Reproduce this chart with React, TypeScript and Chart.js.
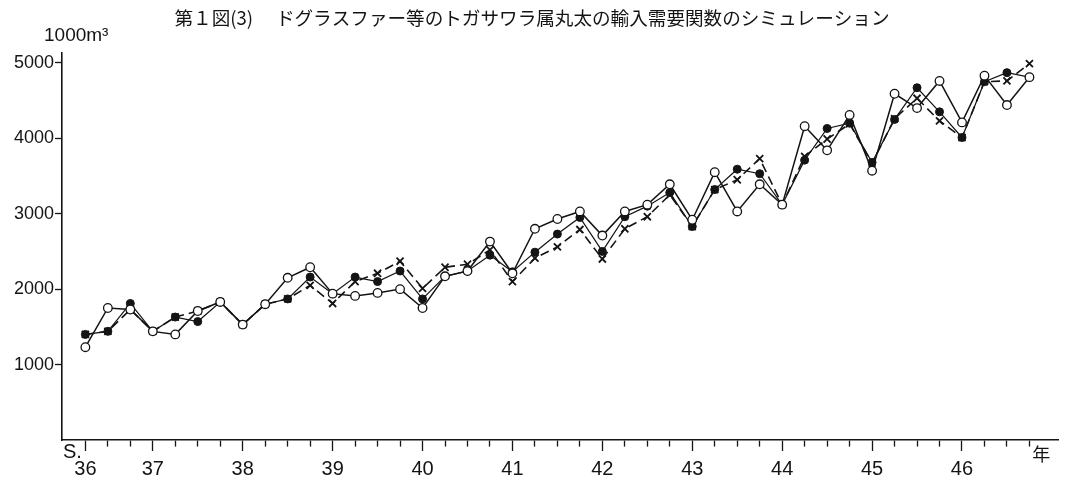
import React, { useEffect, useRef } from "react";
import { Chart, registerables } from "chart.js";

Chart.register(...registerables);

// Quarters (S.36 II期 … S.46 IV期)
const quarters = [
  "36-2", "36-3", "36-4",
  "37-1", "37-2", "37-3", "37-4",
  "38-1", "38-2", "38-3", "38-4",
  "39-1", "39-2", "39-3", "39-4",
  "40-1", "40-2", "40-3", "40-4",
  "41-1", "41-2", "41-3", "41-4",
  "42-1", "42-2", "42-3", "42-4",
  "43-1", "43-2", "43-3", "43-4",
  "44-1", "44-2", "44-3", "44-4",
  "45-1", "45-2", "45-3", "45-4",
  "46-1", "46-2", "46-3", "46-4",
];

// ○ 実績
const actualValues = [
  1230, 1750, 1730, 1440, 1400, 1710, 1830, 1530, 1800, 2150, 2290,
  1940, 1910, 1950, 2000, 1750, 2170, 2240, 2630, 2210, 2800, 2930,
  3030, 2710, 3030, 3120, 3390, 2920, 3550, 3030, 3390, 3120, 4160,
  3840, 4310, 3570, 4590, 4400, 4760, 4210, 4830, 4440, 4810,
];

// ● 推計値
const estimateFilled = [
  1400, 1440, 1810, 1440, 1630, 1570, 1830, 1530, 1800, 1870, 2160,
  1940, 2160, 2100, 2240, 1870, 2170, 2240, 2450, 2230, 2490, 2730,
  2950, 2500, 2960, 3100, 3280, 2830, 3320, 3590, 3530, 3120, 3710,
  4130, 4200, 3680, 4250, 4670, 4350, 4010, 4750, 4870, 4810,
];

// × 推計値
const estimateCross = [
  1400, 1440, 1730, 1440, 1630, 1710, 1830, 1530, 1800, 1870, 2050,
  1810, 2100, 2210, 2370, 2010, 2290, 2330, 2520, 2100, 2410, 2560,
  2790, 2400, 2800, 2960, 3250, 2830, 3320, 3450, 3730, 3120, 3760,
  3990, 4190, 3670, 4260, 4530, 4230, 4010, 4750, 4760, 4990,
];

const yTickValues = [1000, 2000, 3000, 4000, 5000];

const titleText = "第１図(3)　 ドグラスファー等のトガサワラ属丸太の輸入需要関数のシミュレーション";
const unitLabel = "1000m³";
const eraLabel = "S.";
const yearUnit = "年";

const ink = "#141414";

function yearOf(i: number): string | null {
  const q = quarters[i];
  if (!q) return null;
  const [y, p] = q.split("-");
  if (i === 0 || p === "1") return y;
  return null;
}

export default function App() {
  const ref = useRef<HTMLCanvasElement>(null);

  useEffect(() => {
    document.body.style.margin = "0";
    const canvas = ref.current!;
    const ctx = canvas.getContext("2d")!;

    const extraText = {
      id: "extraText",
      afterDraw(chart: any) {
        const { ctx: c, chartArea } = chart;
        c.save();
        c.fillStyle = ink;
        c.textBaseline = "middle";
        c.textAlign = "left";
        c.font = "19px 'Liberation Sans', Arial, sans-serif";
        c.fillText(unitLabel, chartArea.left - 18, chartArea.top - 17);
        c.font = "20px 'Liberation Sans', Arial, sans-serif";
        c.fillText(eraLabel, chartArea.left + 1, chartArea.bottom + 12);
        c.font = "18px 'Noto Sans CJK JP', sans-serif";
        c.fillText(yearUnit, chartArea.right - 26, chartArea.bottom + 14);
        c.restore();
      },
    };

    const toPoints = (arr: number[]) => arr.map((v, i) => ({ x: i, y: v }));

    const chart = new Chart(ctx, {
      type: "line",
      data: {
        datasets: [
          {
            label: "実績",
            data: toPoints(actualValues),
            borderColor: ink,
            borderWidth: 1.5,
            pointStyle: "circle",
            pointRadius: 4.3,
            pointBackgroundColor: "#ffffff",
            pointBorderColor: ink,
            pointBorderWidth: 1.3,
            tension: 0,
          },
          {
            label: "推計値(1)",
            data: toPoints(estimateFilled),
            borderColor: ink,
            borderWidth: 1.2,
            pointStyle: "circle",
            pointRadius: 4,
            pointBackgroundColor: ink,
            pointBorderColor: ink,
            pointBorderWidth: 1,
            tension: 0,
          },
          {
            label: "推計値(2)",
            data: toPoints(estimateCross),
            borderColor: ink,
            borderWidth: 1.6,
            borderDash: [9, 5],
            pointStyle: "crossRot",
            pointRadius: 5,
            pointBorderColor: ink,
            pointBorderWidth: 1.8,
            tension: 0,
          },
        ] as any,
      },
      options: {
        animation: false,
        responsive: false,
        layout: { padding: { left: 0, right: 1, top: 0, bottom: 0 } },
        plugins: {
          legend: { display: false },
          tooltip: { enabled: false },
          title: {
            display: true,
            text: titleText,
            color: ink,
            font: { family: "'Noto Sans CJK JP', sans-serif", size: 18.6, weight: "normal" },
            padding: { top: 7, bottom: 23.7 },
          },
        },
        scales: {
          x: {
            type: "linear",
            min: -1.04,
            max: 43.28,
            afterBuildTicks: (s: any) => {
              s.ticks = quarters.map((_, i) => ({ value: i }));
            },
            afterFit: (s: any) => {
              s.height = 40;
            },
            border: { display: true, color: ink, width: 1.6 },
            grid: {
              drawOnChartArea: false,
              drawTicks: true,
              tickLength: 11,
              tickColor: ink,
              tickWidth: 1.3,
              tickBorderDash: (c: any) =>
                yearOf(c.tick ? c.tick.value : c.index) ? [] : [6, 30],
            } as any,
            ticks: {
              autoSkip: false,
              maxRotation: 0,
              minRotation: 0,
              padding: 6,
              color: ink,
              font: { family: "'Liberation Sans', Arial, sans-serif", size: 20 },
              callback: (v: any) => yearOf(Number(v)) ?? "",
            },
          },
          y: {
            type: "linear",
            min: 0,
            max: 5130,
            afterBuildTicks: (s: any) => {
              s.ticks = yTickValues.map((v) => ({ value: v }));
            },
            afterFit: (s: any) => {
              s.width = 62;
            },
            border: { display: true, color: ink, width: 1.6 },
            grid: {
              drawOnChartArea: false,
              drawTicks: true,
              tickLength: 7,
              tickColor: ink,
              tickWidth: 1.3,
            },
            ticks: {
              padding: 1,
              color: ink,
              font: { family: "'Liberation Sans', Arial, sans-serif", size: 18 },
              callback: (v: any) => String(v),
            },
          },
        },
      },
      plugins: [extraText],
    } as any);

    return () => chart.destroy();
  }, []);

  return (
    <div style={{ width: 1065, height: 480, position: "relative" }}>
      <canvas ref={ref} width={1065} height={480} style={{ display: "block" }} />
    </div>
  );
}
